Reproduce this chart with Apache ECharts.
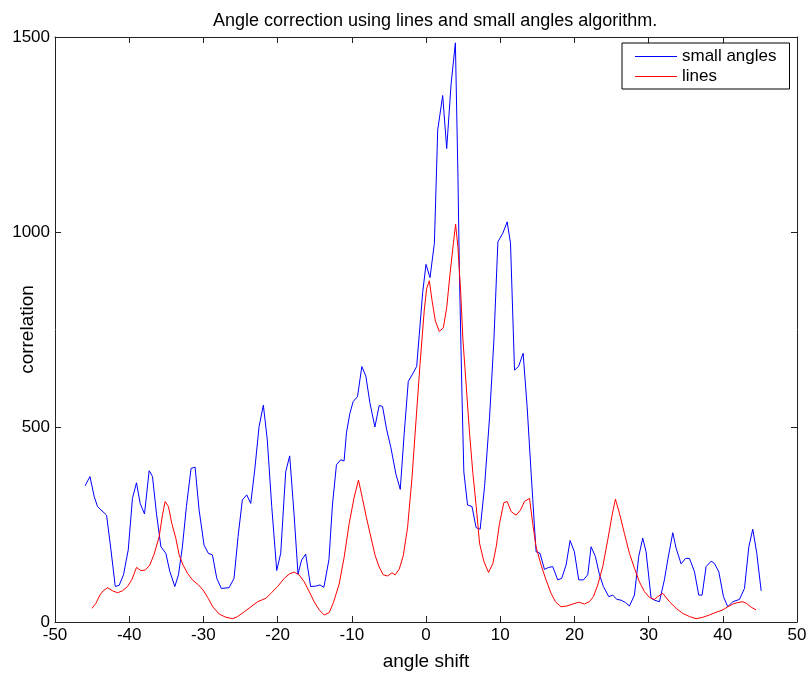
<!DOCTYPE html>
<html>
<head>
<meta charset="utf-8">
<script src="https://cdn.jsdelivr.net/npm/echarts@6/dist/echarts.min.js"></script>
<style>
html,body{margin:0;padding:0;background:#fff;}
#chart{width:808px;height:673px;}
</style>
</head>
<body>
<div id="chart"></div>
<script>
var titleText = 'Angle correction using lines and small angles algorithm.';
var xName = 'angle shift';
var yName = 'correlation';
var seriesNames = ['small angles', 'lines'];

var blueX = [-45.95,-45.29,-44.71,-44.27,-43.67,-43.05,-42.46,-41.88,-41.35,-40.77,-40.13,-39.56,-39.02,-38.52,-37.94,-37.31,-36.86,-36.33,-35.73,-35.06,-34.52,-33.85,-33.36,-32.83,-32.29,-31.66,-31.12,-30.58,-29.91,-29.33,-28.78,-28.20,-27.58,-26.54,-25.87,-25.33,-24.75,-24.16,-23.62,-23.08,-22.50,-21.92,-21.39,-20.79,-20.12,-19.58,-18.91,-18.37,-17.79,-17.25,-16.76,-16.22,-15.55,-14.87,-14.29,-13.76,-13.08,-12.61,-12.07,-11.49,-11.04,-10.72,-10.27,-9.82,-9.23,-8.65,-8.11,-7.57,-6.89,-6.31,-5.86,-5.32,-4.73,-4.05,-3.47,-2.93,-2.39,-1.80,-1.26,-0.90,-0.45,0,0.54,1.13,1.58,2.25,2.79,3.38,3.96,4.3,4.5,4.85,5.1,5.6,6.2,6.75,7.3,7.89,8.57,9.15,9.69,10.36,10.94,11.39,11.93,12.47,13.09,13.63,14.17,14.62,14.84,15.37,15.96,16.54,17.08,17.75,18.29,18.88,19.42,20.0,20.58,21.21,21.80,22.25,22.83,23.38,23.91,24.63,25.17,25.71,26.29,26.88,27.42,28.09,28.67,29.21,29.66,30.34,30.79,31.46,32.13,32.58,33.26,33.71,34.38,34.97,35.51,36.18,36.76,37.21,37.75,38.43,38.88,39.46,40.09,40.67,41.35,42.25,42.92,43.51,44.04,44.58,45.17];
var blueY = [349,373,321,296,285,274,185,91,94,121,185,317,357,304,277,388,373,279,193,176,129,91,121,193,296,394,397,287,197,176,172,112,86,88,112,219,313,326,304,390,501,556,467,296,132,176,385,426,279,123,159,174,91,92,95,89,160,300,403,416,413,485,534,565,578,655,631,563,500,555,553,495,447,379,340,485,617,636,655,738,845,917,883,971,1262,1350,1214,1379,1485,1150,900,580,385,300,296,242,238,347,526,723,975,997,1026,971,646,655,689,552,381,244,180,176,135,140,142,108,112,146,209,180,108,108,121,193,168,121,91,65,69,58,56,50,41,69,168,215,180,61,56,52,108,159,229,189,149,163,163,129,69,69,142,156,150,129,65,39,52,58,86,193,238,176,80];

var redX = [-45.02,-44.48,-43.95,-43.50,-42.91,-42.24,-41.57,-40.90,-40.22,-39.64,-39.01,-38.43,-37.85,-37.22,-36.64,-35.96,-35.52,-35.16,-34.71,-34.26,-33.72,-33.27,-32.74,-32.15,-31.48,-30.67,-30.04,-29.33,-28.74,-27.85,-26.95,-26.05,-25.38,-24.48,-23.59,-22.69,-21.57,-20.90,-20.0,-19.10,-18.43,-17.76,-17.09,-16.41,-15.74,-15.07,-14.39,-13.72,-13.05,-12.47,-11.71,-11.04,-10.36,-9.68,-9.10,-8.56,-8.02,-7.43,-6.85,-6.31,-5.77,-5.18,-4.59,-4.14,-3.60,-3.06,-2.48,-1.89,-1.35,-0.81,-0.23,0.09,0.45,0.81,1.26,1.80,2.34,2.79,3.24,3.69,3.99,4.30,4.66,4.98,5.43,5.87,6.32,6.77,7.22,7.80,8.43,9.01,9.46,9.91,10.49,10.94,11.48,12.15,12.74,13.27,13.95,14.38,14.83,15.51,16.18,16.85,17.44,18.20,18.97,19.78,20.58,21.35,22.02,22.56,23.15,23.82,24.49,25.08,25.53,26.07,26.74,27.42,28.09,28.76,29.44,30.11,30.79,31.24,31.91,32.81,33.71,34.61,35.51,36.40,37.30,38.20,39.10,40.0,40.67,41.35,42.02,42.70,43.15,43.82,44.49];
var redY = [35,48,69,80,88,80,75,80,91,109,140,132,133,146,174,219,274,309,296,253,215,172,146,125,108,95,82,60,39,20,12,8.5,14,26.5,39,52,61,73.5,91,112,123,128,120.5,103,78,52,31,18,24,50,97,165,252,320,364,316,267,218,170,141,121,118,126,121,136,170,243,369,515,660,800,855,875,825,772,745,755,806,893,971,1020,962,851,723,603,484,381,296,202,155,127,150,193,253,306,309,283,274,287,309,317,253,193,146,108,73.5,52,39,41,46,51,46,52,65,95,142,210,274,315,279,227,176,138,103,78,63,58,65,73.5,52,35,22,14,8.5,12,18,25,31,39,46,50,52,48,38,31];

var xTicks = {min: -50, max: 50, interval: 10};
var yTicks = {min: 0, max: 1500, interval: 500};

function zip(xs, ys){ var out=[]; for(var i=0;i<xs.length;i++){ out.push([xs[i], ys[i]]); } return out; }
function plain(v){ return String(v); }

var FONT = 'Liberation Sans, Arial, Helvetica, sans-serif';
var axisColor = '#222';

var chart = echarts.init(document.getElementById('chart'), null, {renderer:'canvas'});
var option = {
  animation: false,
  backgroundColor: '#fff',
  textStyle: {fontFamily: FONT},
  title: {
    text: titleText,
    left: 208,
    top: 7,
    textStyle: {fontFamily: FONT, fontSize: 18, fontWeight: 'normal', color: '#000'}
  },
  legend: {
    data: seriesNames,
    orient: 'vertical',
    left: 622,
    top: 43,
    icon: 'rect',
    itemWidth: 42,
    itemHeight: 1,
    itemGap: 3,
    padding: [5, 13, 4, 13],
    borderColor: '#000',
    borderWidth: 1,
    backgroundColor: '#fff',
    textStyle: {fontFamily: FONT, fontSize: 17, color: '#000'}
  },
  grid: {left: 55, right: 11, top: 37, bottom: 51, containLabel: false, outerBoundsMode: 'none'},
  xAxis: [{
    type: 'value', min: xTicks.min, max: xTicks.max, interval: xTicks.interval, position: 'bottom',
    name: xName, nameLocation: 'middle', nameGap: 30, nameMoveOverlap: false,
    nameTextStyle: {fontFamily: FONT, fontSize: 19, color: '#000'},
    axisLine: {show: true, onZero: false, lineStyle: {color: axisColor, width: 1}},
    axisTick: {show: true, inside: true, length: 6, lineStyle: {color: axisColor}},
    axisLabel: {color: '#000', fontSize: 17, fontFamily: FONT, margin: 5, formatter: plain},
    splitLine: {show: false}
  }, {
    type: 'value', min: xTicks.min, max: xTicks.max, interval: xTicks.interval, position: 'top',
    axisLine: {show: true, onZero: false, lineStyle: {color: axisColor, width: 1}},
    axisTick: {show: true, inside: true, length: 6, lineStyle: {color: axisColor}},
    axisLabel: {show: false},
    splitLine: {show: false}
  }],
  yAxis: [{
    type: 'value', min: yTicks.min, max: yTicks.max, interval: yTicks.interval, position: 'left',
    name: yName, nameLocation: 'middle', nameGap: 18, nameRotate: 90, nameMoveOverlap: false,
    nameTextStyle: {fontFamily: FONT, fontSize: 19, color: '#000'},
    axisLine: {show: true, onZero: false, lineStyle: {color: axisColor, width: 1}},
    axisTick: {show: true, inside: true, length: 6, lineStyle: {color: axisColor}},
    axisLabel: {color: '#000', fontSize: 17, fontFamily: FONT, margin: 5, formatter: plain},
    splitLine: {show: false}
  }, {
    type: 'value', min: yTicks.min, max: yTicks.max, interval: yTicks.interval, position: 'right',
    axisLine: {show: true, onZero: false, lineStyle: {color: axisColor, width: 1}},
    axisTick: {show: true, inside: true, length: 6, lineStyle: {color: axisColor}},
    axisLabel: {show: false},
    splitLine: {show: false}
  }],
  series: [{
    name: seriesNames[0], type: 'line', xAxisIndex: 0, yAxisIndex: 0,
    data: zip(blueX, blueY), showSymbol: false, symbol: 'none',
    lineStyle: {color: '#0000ff', width: 1}, itemStyle: {color: '#0000ff'}
  }, {
    name: seriesNames[1], type: 'line', xAxisIndex: 0, yAxisIndex: 0,
    data: zip(redX, redY), showSymbol: false, symbol: 'none',
    lineStyle: {color: '#ff0000', width: 1}, itemStyle: {color: '#ff0000'}
  }]
};
chart.setOption(option);
</script>
</body>
</html>
